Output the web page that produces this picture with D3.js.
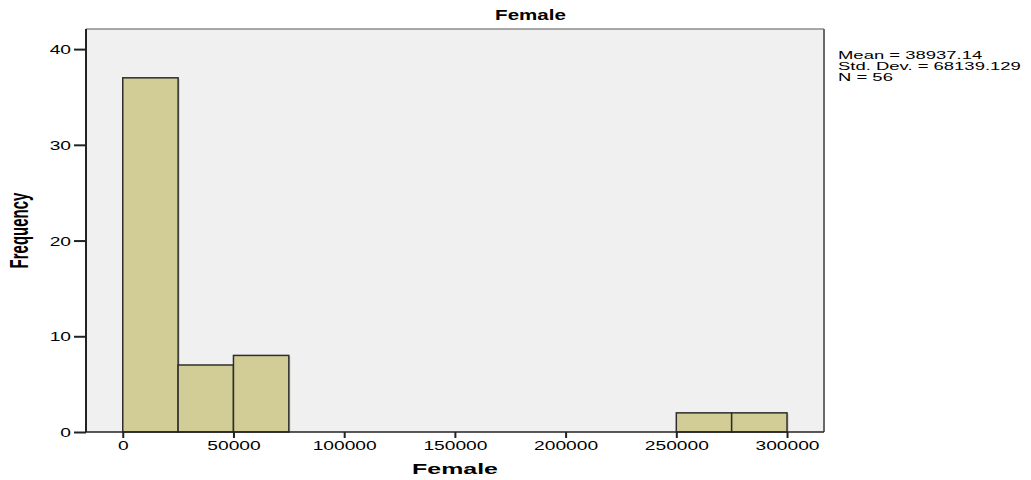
<!DOCTYPE html>
<html>
<head>
<meta charset="utf-8">
<script src="https://cdn.jsdelivr.net/npm/d3@7"></script>
<style>
  html, body { margin: 0; padding: 0; background: #ffffff; }
  svg text { font-family: "Liberation Sans", Arial, sans-serif; fill: #000; }
</style>
</head>
<body>
<svg id="chart" width="1031" height="480"></svg>
<script>
// ---- data ----
const binStarts = [0, 25000, 50000, 250000, 275000];
const binEnds   = [25000, 50000, 75000, 275000, 300000];
const frequencies = [37, 7, 8, 2, 2];
const xTicks = [0, 50000, 100000, 150000, 200000, 250000, 300000];
const yTicks = [0, 10, 20, 30, 40];
const statsLines = ["Mean = 38937.14", "Std. Dev. = 68139.129", "N = 56"];
const chartTitle = "Female";
const xTitle = "Female";
const yTitle = "Frequency";

// ---- layout ----
const plot = { left: 86, right: 824, top: 29, bottom: 432 };
const svg = d3.select("#chart");

const x = d3.scaleLinear().domain([-16600, 316700]).range([plot.left, plot.right]);
const y = d3.scaleLinear().domain([0, 42.1]).range([plot.bottom, plot.top]);

// plot background
svg.append("rect")
  .attr("x", plot.left).attr("y", plot.top)
  .attr("width", plot.right - plot.left).attr("height", plot.bottom - plot.top)
  .attr("fill", "#f0f0f0");

// frame top/right
svg.append("line").attr("x1", plot.left).attr("x2", plot.right)
  .attr("y1", plot.top).attr("y2", plot.top)
  .attr("stroke", "#8c8c8c").attr("stroke-width", 1.5);
svg.append("line").attr("x1", plot.right).attr("x2", plot.right)
  .attr("y1", plot.top).attr("y2", plot.bottom)
  .attr("stroke", "#6a6a6a").attr("stroke-width", 2);

// bars
const bins = binStarts.map((s, i) => ({ x0: s, x1: binEnds[i], n: frequencies[i] }));
// shadow
svg.append("g").selectAll("rect").data(bins).join("rect")
  .attr("x", d => x(d.x0) + 1.5)
  .attr("y", d => y(d.n) + 1)
  .attr("width", d => x(d.x1) - x(d.x0))
  .attr("height", d => y(0) - y(d.n) - 1)
  .attr("fill", "#9a9a8a").attr("opacity", 0.5);
svg.append("g").selectAll("rect").data(bins).join("rect")
  .attr("x", d => x(d.x0))
  .attr("y", d => y(d.n))
  .attr("width", d => x(d.x1) - x(d.x0))
  .attr("height", d => y(0) - y(d.n))
  .attr("fill", "#d2cd96")
  .attr("stroke", "#2e2e2e").attr("stroke-width", 1.5);

// axes
const yAxis = svg.append("g").attr("transform", `translate(${plot.left},0)`)
  .call(d3.axisLeft(y).tickValues(yTicks).tickSize(12).tickPadding(3).tickSizeOuter(0));
yAxis.select(".domain").attr("stroke", "#222").attr("stroke-width", 2)
  .attr("d", `M0,${plot.top}V${plot.bottom}`);
yAxis.selectAll(".tick line").attr("stroke", "#222").attr("stroke-width", 2);
yAxis.selectAll(".tick text")
  .attr("font-size", 12).attr("x", null).attr("dy", null)
  .attr("text-anchor", "end")
  .attr("transform", "translate(-15,4.5) scale(1.6,1)");

const xAxis = svg.append("g").attr("transform", `translate(0,${plot.bottom})`)
  .call(d3.axisBottom(x).tickValues(xTicks).tickSize(6).tickFormat(d3.format("d")).tickSizeOuter(0));
xAxis.select(".domain").attr("stroke", "#222").attr("stroke-width", 1.5)
  .attr("d", `M${plot.left},0H${plot.right}`);
xAxis.selectAll(".tick line").attr("stroke", "#222").attr("stroke-width", 2);
xAxis.selectAll(".tick text")
  .attr("font-size", 12).attr("y", null).attr("dy", null)
  .attr("text-anchor", "middle")
  .attr("transform", "translate(0,18) scale(1.6,1)");

// titles
svg.append("text").text(chartTitle)
  .attr("font-size", 15).attr("font-weight", "bold").attr("text-anchor", "middle")
  .attr("transform", "translate(530.5,20) scale(1.37,1)");
svg.append("text").text(xTitle)
  .attr("font-size", 15).attr("font-weight", "bold").attr("text-anchor", "middle")
  .attr("transform", "translate(455,474) scale(1.66,1)");
svg.append("text").text(yTitle)
  .attr("font-size", 15).attr("font-weight", "bold").attr("text-anchor", "middle")
  .attr("transform", `translate(28,${(plot.top + plot.bottom) / 2}) rotate(-90) scale(1,1.75)`);

// stats
svg.append("g").selectAll("text").data(statsLines).join("text")
  .text(d => d)
  .attr("font-size", 11)
  .attr("transform", (d, i) => `translate(838,${59 + i * 11}) scale(1.68,1)`);
</script>
</body>
</html>
